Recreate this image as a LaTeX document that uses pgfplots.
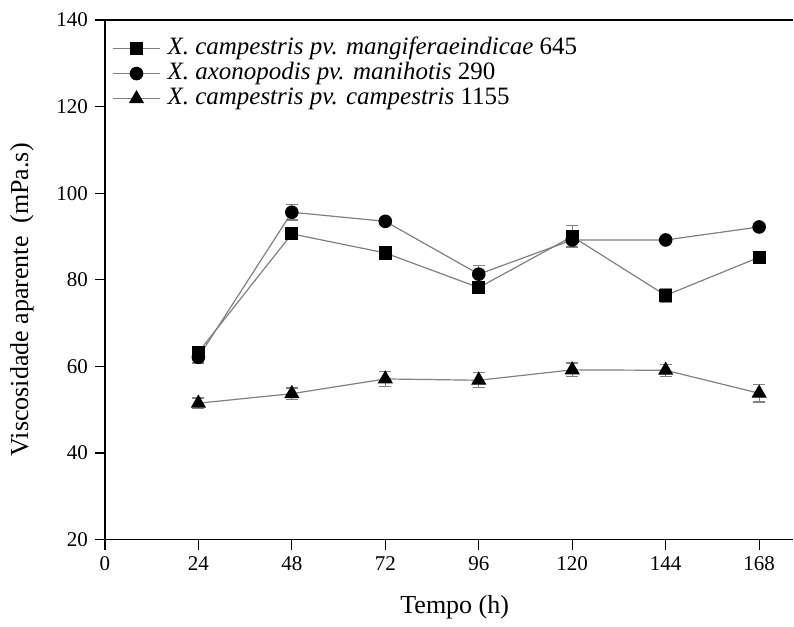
\documentclass[border=0pt]{standalone}
\usepackage{pgfplots}
\pgfplotsset{compat=1.18}
\usepackage{fontspec}
\setmainfont{Liberation Serif}
\begin{document}
\begin{tikzpicture}
\begin{axis}[
  scale only axis,
  width=344.5pt, height=260pt,
  xmin=0, xmax=176.8, ymin=20, ymax=140,
  axis x line*=bottom, axis y line*=left,
  axis line style={black, line width=0.6pt, -},
  xtick={0,24,48,72,96,120,144,168},
  ytick={20,40,60,80,100,120,140},
  tick align=outside, major tick length=5pt,
  tick style={black, line width=0.6pt},
  /pgf/number format/assume math mode=true,
  tick label style={font=\fontsize{10.5}{12}\selectfont},
  xlabel={Tempo (h)},
  ylabel={Viscosidade aparente\ \ (mPa.s)},
  label style={font=\fontsize{13}{15}\selectfont},
  xlabel style={at={(rel axis cs:0.508,0)}, anchor=center, yshift=-34pt},
  ylabel style={at={(rel axis cs:0,0.4615)}, anchor=center, yshift=41.5pt},
  clip=false,
  legend cell align=left,
  legend style={draw=none, fill=none, at={(rel axis cs:0.001,0.978)}, anchor=north west,
    font=\fontsize{12.5}{12}\selectfont, row sep=0pt,
    nodes={text height=8.5pt, text depth=2.5pt, inner sep=0.8pt},
    /tikz/every odd column/.append style={column sep=2.5pt}},
  legend image code/.code={\draw[mark repeat=2,mark phase=2] plot coordinates {(0cm,0cm) (0.42cm,0cm) (0.84cm,0cm)};},
  error bars/error bar style={gray, line width=0.6pt},
  error bars/error mark options={rotate=90, mark size=3pt, gray, line width=0.6pt},
]
\addplot[color=gray, line width=0.6pt, mark=square*, mark size=3pt, mark options={black, fill=black, solid}, error bars/.cd, y dir=both, y explicit]
  coordinates {(24,63.3)+-(0,0.8) (48,90.6)+-(0,1.3) (72,86.2)+-(0,0.8) (96,78.2)+-(0,0.8) (120,90.0)+-(0,2.5) (144,76.4)+-(0,1.6) (168,85.2)+-(0,1.3)};
\addlegendentry{\textit{X. campestris pv. mangiferaeindicae} 645}
\addplot[color=gray, line width=0.6pt, mark=*, mark size=3.1pt, mark options={black, fill=black, solid}, error bars/.cd, y dir=both, y explicit]
  coordinates {(24,62.1)+-(0,1.3) (48,95.6)+-(0,1.8) (72,93.5)+-(0,0.6) (96,81.3)+-(0,2.0) (120,89.2)+-(0,1.5) (144,89.2)+-(0,0.5) (168,92.2)+-(0,0.8)};
\addlegendentry{\textit{X. axonopodis pv. manihotis} 290}
\addplot[color=gray, line width=0.6pt, mark=triangle*, mark size=3.8pt, mark options={black, fill=black, solid}, error bars/.cd, y dir=both, y explicit]
  coordinates {(24,51.5)+-(0,1.2) (48,53.7)+-(0,1.3) (72,57.1)+-(0,1.8) (96,56.8)+-(0,1.7) (120,59.2)+-(0,1.6) (144,59.1)+-(0,1.4) (168,53.8)+-(0,2.0)};
\addlegendentry{\textit{X. campestris pv. campestris} 1155}
\coordinate (sw) at (rel axis cs:0,0);
\coordinate (ne) at (rel axis cs:1,1);
\draw[black, line width=0.6pt] (rel axis cs:0,1) -- (rel axis cs:1,1);
\end{axis}
\path (sw) ++(-52.5pt,-43.5pt) coordinate (bb1);
\path (ne) ++(0pt,10pt) coordinate (bb2);
\path[use as bounding box] (bb1) rectangle (bb2);
\end{tikzpicture}
\end{document}
